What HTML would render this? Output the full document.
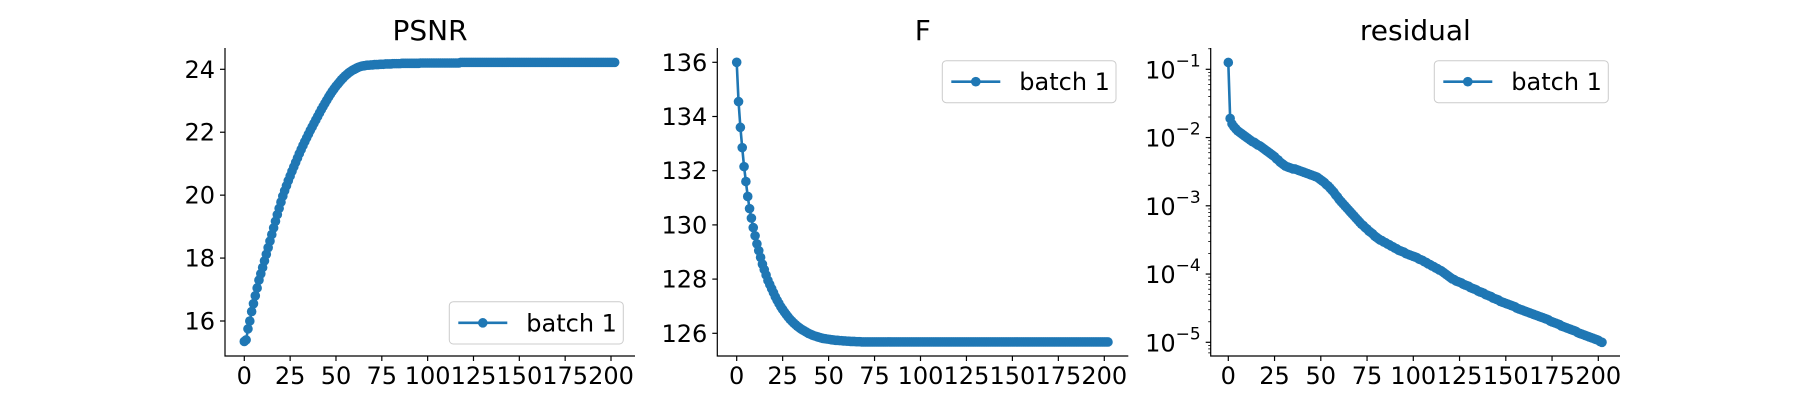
<!DOCTYPE html>
<html><head><meta charset="utf-8"><style>
html,body{margin:0;padding:0;background:#fff;}
svg{display:block;font-family:"DejaVu Sans","Liberation Sans",sans-serif;}
</style></head><body>
<svg id="fig" width="1800" height="400" viewBox="0 0 1800 400" xmlns="http://www.w3.org/2000/svg"></svg>
<script>
const xTicks=[0,25,50,75,100,125,150,175,200];
const psnrTicks=[16,18,20,22,24];
const fTicks=[126,128,130,132,134,136];
const resTicks=[-5,-4,-3,-2,-1];
const psnrValues=[15.35,15.4,15.75,16.0,16.3,16.55,16.8,17.05,17.3,17.5,17.7,
17.91,18.12,18.33,18.54,18.75,18.96,19.17,19.38,19.58,19.78,19.97,
20.14,20.3,20.46,20.61,20.76,20.9,21.04,21.18,21.32,21.45,21.58,21.7,21.82,21.94,22.06,22.17,
22.28,22.39,22.5,22.61,22.72,22.82,22.92,23.02,23.12,23.21,23.3,23.38,23.46,
23.53,23.6,23.67,23.73,23.79,23.84,23.89,23.93,23.97,24.0,24.03,24.06,24.08,24.1,24.11,
24.12,24.13,24.13,24.14,24.14,24.15,24.15,24.15,24.16,24.16,24.16,24.17,24.17,24.17,24.17,24.18,24.18,24.18,24.18,24.18,
24.19,24.19,24.19,24.19,24.19,24.19,24.19,24.19,24.19,24.19,24.2,24.2,24.2,24.2,24.2,24.2,24.2,24.2,24.2,24.2,24.2,24.2,24.2,24.2,24.2,24.2,24.2,24.2,24.2,24.2,24.2,24.2,
24.22,24.22,24.22,24.22,24.22,24.22,24.22,24.22,24.22,24.22,24.22,24.22,24.22,24.22,24.22,24.22,24.22,24.22,24.22,24.22,
24.22,24.22,24.22,24.22,24.22,24.22,24.22,24.22,24.22,24.22,24.22,24.22,24.22,24.22,24.22,24.22,24.22,24.22,24.22,24.22,
24.22,24.22,24.22,24.22,24.22,24.22,24.22,24.22,24.22,24.22,24.22,24.22,24.22,24.22,24.22,24.22,24.22,24.22,24.22,24.22,
24.22,24.22,24.22,24.22,24.22,24.22,24.22,24.22,24.22,24.22,24.22,24.22,24.22,24.22,24.22,24.22,24.22,24.22,24.22,24.22,
24.22,24.22,24.22,24.22,24.22];
const fValues=[136,134.55,133.6,132.85,132.15,131.6,131.05,130.6,130.25,129.9,129.6,129.3,129.05,128.8,128.55,128.35,128.15,127.95,127.8,127.65,
127.5,127.35,127.22,127.1,126.98,126.88,126.78,126.69,126.6,126.52,126.45,126.38,126.32,126.26,126.21,126.16,126.12,126.08,126.04,126.0,
125.97,125.94,125.91,125.89,125.87,125.85,125.83,125.81,125.8,125.79,125.78,125.77,125.76,125.75,125.74,125.74,125.73,125.73,125.72,125.72,
125.71,125.71,125.7,125.7,125.7,125.69,125.69,125.69,125.68,125.68,
125.68,125.68,125.68,125.68,125.68,125.68,125.68,125.68,125.68,125.68,125.68,125.68,125.68,125.68,125.68,125.68,125.68,125.68,125.68,125.68,
125.68,125.68,125.68,125.68,125.68,125.68,125.68,125.68,125.68,125.68,125.68,125.68,125.68,125.68,125.68,125.68,125.68,125.68,125.68,125.68,
125.68,125.68,125.68,125.68,125.68,125.68,125.68,125.68,125.68,125.68,125.68,125.68,125.68,125.68,125.68,125.68,125.68,125.68,125.68,125.68,
125.68,125.68,125.68,125.68,125.68,125.68,125.68,125.68,125.68,125.68,125.68,125.68,125.68,125.68,125.68,125.68,125.68,125.68,125.68,125.68,
125.68,125.68,125.68,125.68,125.68,125.68,125.68,125.68,125.68,125.68,125.68,125.68,125.68,125.68,125.68,125.68,125.68,125.68,125.68,125.68,
125.68,125.68,125.68,125.68,125.68,125.68,125.68,125.68,125.68,125.68,125.68,125.68,125.68,125.68,125.68,125.68,125.68,125.68,125.68,125.68,
125.68,125.68,125.68,125.68,125.68,125.68,125.68,125.68,125.68,125.68,125.68,125.68,125.68];
const residualLog10=[-0.9,-1.72,-1.8,-1.84,-1.87,-1.9,-1.92,-1.94,-1.96,-1.98,-2.0,
-2.02,-2.04,-2.06,-2.07,-2.09,-2.11,-2.12,-2.14,-2.16,-2.18,-2.2,-2.22,-2.24,-2.26,-2.28,
-2.31,-2.33,-2.36,-2.38,-2.4,-2.42,-2.43,
-2.44,-2.45,-2.46,-2.46,-2.47,-2.48,-2.49,-2.5,
-2.51,-2.52,-2.53,-2.54,-2.55,-2.56,-2.57,-2.58,-2.6,-2.62,
-2.64,-2.66,-2.69,-2.71,-2.74,-2.77,-2.8,-2.84,-2.87,-2.91,
-2.94,-2.97,-3.0,-3.03,-3.06,-3.09,-3.12,-3.15,-3.18,-3.21,-3.24,
-3.27,-3.29,-3.32,-3.34,-3.37,-3.39,-3.41,-3.44,-3.46,-3.48,-3.5,
-3.51,-3.53,-3.54,-3.56,-3.57,-3.59,-3.6,-3.62,-3.63,-3.65,-3.66,
-3.67,-3.68,-3.7,-3.71,-3.72,-3.73,-3.74,-3.75,-3.76,-3.78,-3.79,
-3.8,-3.82,-3.83,-3.85,-3.86,-3.88,-3.89,-3.91,-3.92,-3.94,-3.95,-3.97,-3.99,-4.01,-4.03,-4.05,
-4.07,-4.08,-4.1,-4.11,-4.12,-4.13,-4.15,-4.16,-4.17,-4.18,-4.2,-4.21,-4.22,-4.23,-4.25,-4.26,-4.27,-4.28,-4.3,-4.31,-4.32,-4.33,-4.35,-4.36,-4.37,-4.38,-4.4,-4.41,-4.42,-4.43,
-4.44,-4.45,-4.46,-4.47,-4.48,-4.5,-4.51,-4.52,-4.53,-4.54,-4.55,-4.56,-4.57,-4.58,-4.59,-4.6,-4.61,-4.62,-4.63,-4.64,-4.65,-4.66,-4.67,-4.69,-4.7,
-4.71,-4.72,-4.73,-4.74,-4.76,-4.77,-4.78,-4.79,-4.8,-4.81,-4.82,-4.83,-4.84,-4.86,-4.87,-4.88,-4.89,-4.9,-4.91,-4.92,-4.93,-4.94,-4.95,-4.96,-4.97,-4.99,-5.0];

const NS='http://www.w3.org/2000/svg';
const svg=document.getElementById('fig');
const C='#1f77b4';
const LW=2.6, MR=4.8;
function mk(tag,attrs,parent){const e=document.createElementNS(NS,tag);for(const k in attrs)e.setAttribute(k,attrs[k]);(parent||svg).appendChild(e);return e;}

function drawPanel(cfg){
  const g=mk('g',{});
  
  
  const xs=v=>cfg.x0+(v-0)*(cfg.x200-cfg.x0)/200;
  const ys=v=>cfg.ya+(v-cfg.va)*(cfg.yb-cfg.ya)/(cfg.vb-cfg.va);
  const t=mk('text',{x:(cfg.L+cfg.R)/2,y:40,'text-anchor':'middle','font-size':28,fill:'#000'},g);
  t.textContent=cfg.title;
  
  
  const sp=mk('path',{d:`M${cfg.L},48V356H${cfg.R}`,fill:'none',stroke:'#000','stroke-width':1.2},g);
  
  
  xTicks.forEach(v=>{
    const x=xs(v);
    mk('line',{x1:x,x2:x,y1:356,y2:361,stroke:'#000','stroke-width':1.2},g);
    const tl=mk('text',{x:x,y:384,'text-anchor':'middle','font-size':24,fill:'#000'},g);
    tl.textContent=v;
    
    
  });
  if(cfg.log){
    for(let d=-6;d<=-1;d++){for(let m=2;m<=9;m++){const v=d+Math.log10(m);const y=ys(v);if(y>48&&y<356)mk('line',{x1:cfg.L-2.5,x2:cfg.L,y1:y,y2:y,stroke:'#000','stroke-width':0.8},g);}}
    cfg.yticks.forEach(v=>{
      const y=ys(v);
      mk('line',{x1:cfg.L-5,x2:cfg.L,y1:y,y2:y,stroke:'#000','stroke-width':1.2},g);
      const tl=mk('text',{x:cfg.L-10,y:y+9,'text-anchor':'end','font-size':24,fill:'#000'},g);
      
      
      const a=mk('tspan',{},tl);a.textContent='10';
      const b=mk('tspan',{dy:-12,'font-size':17},tl);b.textContent='\u2212'+(-v);
    });
  } else {
    cfg.yticks.forEach(v=>{
      const y=ys(v);
      mk('line',{x1:cfg.L-5,x2:cfg.L,y1:y,y2:y,stroke:'#000','stroke-width':1.2},g);
      const tl=mk('text',{x:cfg.L-10,y:y+8.5,'text-anchor':'end','font-size':24,fill:'#000'},g);
      tl.textContent=v;
      
      
    });
  }
  const pts=cfg.data.map((v,i)=>[xs(i),ys(v)]);
  const line=mk('polyline',{points:pts.map(p=>p[0].toFixed(2)+','+p[1].toFixed(2)).join(' '),fill:'none',stroke:C,'stroke-width':LW},g);
  
  
  pts.forEach(p=>{
    const c=mk('circle',{cx:p[0],cy:p[1],r:MR,fill:C},g);
    
    
  });
  const lg=mk('g',{},g);
  
  
  const b=cfg.leg;
  mk('rect',{x:b[0],y:b[1],width:b[2]-b[0],height:b[3]-b[1],rx:4,fill:'#fff','fill-opacity':0.8,stroke:'#ccc','stroke-width':1},lg);
  const ly=(b[1]+b[3])/2;
  mk('line',{x1:b[0]+9,x2:b[0]+58,y1:ly,y2:ly,stroke:C,'stroke-width':LW},lg);
  mk('circle',{cx:b[0]+33.5,cy:ly,r:MR,fill:C},lg);
  const lt=mk('text',{x:b[0]+77,y:ly+8.5,'font-size':24,fill:'#000'},lg);
  lt.textContent='batch 1';
  
  
}

drawPanel({name:'psnr',title:'PSNR',L:225,R:635,x0:244.3,x200:611,ya:321,va:16,yb:69.3,vb:24,yticks:psnrTicks,data:psnrValues,leg:[449.3,301.7,623.3,344]});
drawPanel({name:'f',title:'F',L:717.3,R:1128.3,x0:736.7,x200:1104.3,ya:333.3,va:126,yb:62.3,vb:136,yticks:fTicks,data:fValues,leg:[942.3,60.7,1116,102.7]});
drawPanel({name:'residual',title:'residual',L:1210.7,R:1620,x0:1228.3,x200:1598.3,ya:342.3,va:-5,yb:69.3,vb:-1,yticks:resTicks,data:residualLog10,log:true,leg:[1434.3,60.7,1608.3,102.7]});
</script>
</body></html>
